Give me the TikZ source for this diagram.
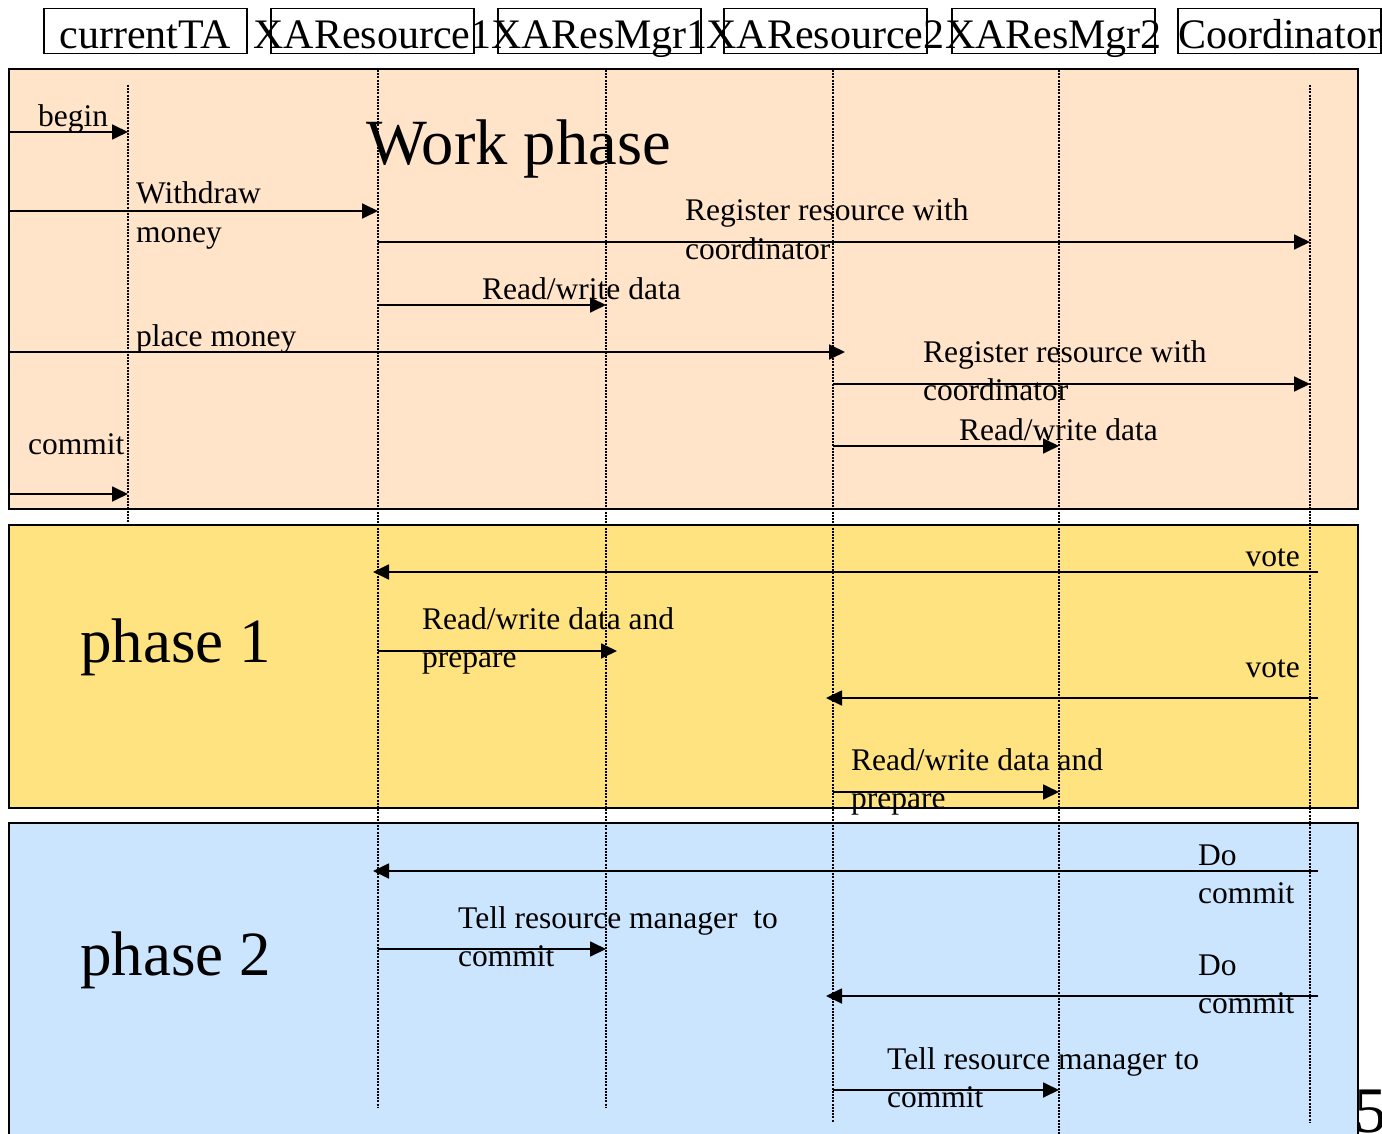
\documentclass[tikz,border=0pt]{standalone}
\usepackage{fontspec}
\setmainfont{Liberation Serif}
\usetikzlibrary{arrows.meta}

\definecolor{workfill}{RGB}{255,228,202}
\definecolor{onefill}{RGB}{255,227,128}
\definecolor{twofill}{RGB}{204,229,255}

\begin{document}
\begin{tikzpicture}[x=1pt,y=-1pt,
  panel/.style={draw=black,line width=2pt},
  headbox/.style={draw=black,line width=1.2pt,minimum width=203pt,minimum height=45pt,inner sep=0pt},
  headtxt/.style={anchor=base,inner sep=0pt,font=\fontsize{42}{42}\selectfont},
  lifeline/.style={line width=1.3pt,dash pattern=on 2pt off 1.2pt},
  msg/.style={line width=1.8pt,-{Triangle[length=16pt,width=15pt]}},
  lbl/.style={anchor=base west,inner sep=0pt,font=\fontsize{31.5}{38}\selectfont},
  lblr/.style={anchor=base east,inner sep=0pt,font=\fontsize{31.5}{38}\selectfont},
  big/.style={anchor=base west,inner sep=0pt,font=\fontsize{63}{63}\selectfont}]

\useasboundingbox (0,0) rectangle (1382,1134);

% phase panels
\fill[workfill] (9,69) rectangle (1358,509);
\draw[panel] (9,69) rectangle (1358,509);
\fill[onefill] (9,525) rectangle (1358,808);
\draw[panel] (9,525) rectangle (1358,808);
\fill[twofill] (9,823) rectangle (1358,1140);
\draw[panel] (9,1140) -- (9,823) -- (1358,823) -- (1358,1140);

% participant header boxes
\node[headbox] (hTA) at (145.5,31) {};
\node[headbox] (hR1) at (372.5,31) {};
\node[headbox] (hM1) at (599.5,31) {};
\node[headbox] (hR2) at (825.5,31) {};
\node[headbox] (hM2) at (1053.5,31) {};
\node[headbox] (hCO) at (1279.5,31) {};
\node[headtxt] (tTA) at (145.5,49) {currentTA};
\node[headtxt] (tR1) at (372.5,49) {XAResource1};
\node[headtxt] (tM1) at (599.5,49) {XAResMgr1};
\node[headtxt] (tR2) at (825.5,49) {XAResource2};
\node[headtxt] (tM2) at (1053.5,49) {XAResMgr2};
\node[headtxt] (tCO) at (1279.5,49) {Coordinator};

% phase titles
\node[big,font=\fontsize{64.5}{64.5}\selectfont] (wp) at (366,165) {Work phase};
\node[big] (p1) at (80,662) {phase 1};
\node[big] (p2) at (80,975) {phase 2};
\node[anchor=base west,inner sep=0pt,font=\fontsize{65}{65}\selectfont] (pg) at (1354,1132) {5};

% message labels
\node[lbl] (l1) at (38,127) {begin};
\node[lbl] (l2a) at (136,204) {Withdraw};
\node[lbl] (l2b) at (136,243) {money};
\node[lbl] (l3a) at (685,221) {Register resource with};
\node[lbl] (l3b) at (685,259) {coordinator};
\node[lbl] (l4) at (482,299) {Read/write data};
\node[lbl] (l5) at (136,346) {place money};
\node[lbl] (l6a) at (923,362) {Register resource with};
\node[lbl] (l6b) at (923,400) {coordinator};
\node[lbl] (l7) at (959,440) {Read/write data};
\node[lbl] (l8) at (28,454) {commit};
\node[lblr] (l9) at (1300,566) {vote};
\node[lbl] (l10a) at (422,629) {Read/write data and};
\node[lbl] (l10b) at (422,667) {prepare};
\node[lblr] (l11) at (1300,677) {vote};
\node[lbl] (l12a) at (851,770) {Read/write data and};
\node[lbl] (l12b) at (851,808) {prepare};
\node[lbl] (l13a) at (1198,865) {Do};
\node[lbl] (l13b) at (1198,903) {commit};
\node[lbl] (l14a) at (458,928) {Tell resource manager\ \ to};
\node[lbl] (l14b) at (458,966) {commit};
\node[lbl] (l15a) at (1198,975) {Do};
\node[lbl] (l15b) at (1198,1013) {commit};
\node[lbl] (l16a) at (887,1069) {Tell resource manager to};
\node[lbl] (l16b) at (887,1107) {commit};

% lifelines
\coordinate (taTop) at (128,85);   \coordinate (taEnd) at (128,523);
\coordinate (r1Top) at (378,70);   \coordinate (r1End) at (378,1107);
\coordinate (m1Top) at (606,70);   \coordinate (m1End) at (606,1107);
\coordinate (r2Top) at (833,70);   \coordinate (r2End) at (833,1122);
\coordinate (m2Top) at (1059,70);  \coordinate (m2End) at (1059,1140);
\coordinate (coTop) at (1310,85);  \coordinate (coEnd) at (1310,1122);
\draw[lifeline] (taTop) -- (taEnd);
\draw[lifeline] (r1Top) -- (r1End);
\draw[lifeline] (m1Top) -- (m1End);
\draw[lifeline] (r2Top) -- (r2End);
\draw[lifeline] (m2Top) -- (m2End);
\draw[lifeline] (coTop) -- (coEnd);

% message end points
\coordinate (a1s) at (9,132);     \coordinate (a1e) at (128,132);
\coordinate (a2s) at (9,211);     \coordinate (a2e) at (378,211);
\coordinate (a3s) at (378,242);   \coordinate (a3e) at (1310,242);
\coordinate (a4s) at (378,305);   \coordinate (a4e) at (606,305);
\coordinate (a5s) at (9,352);     \coordinate (a5e) at (845,352);
\coordinate (a6s) at (833,384);   \coordinate (a6e) at (1310,384);
\coordinate (a7s) at (833,446);   \coordinate (a7e) at (1059,446);
\coordinate (a8s) at (9,494);     \coordinate (a8e) at (128,494);
\coordinate (a9s) at (1318,572);  \coordinate (a9e) at (373,572);
\coordinate (a10s) at (378,651);  \coordinate (a10e) at (617,651);
\coordinate (a11s) at (1318,698); \coordinate (a11e) at (826,698);
\coordinate (a12s) at (833,792);  \coordinate (a12e) at (1059,792);
\coordinate (a13s) at (1318,871); \coordinate (a13e) at (373,871);
\coordinate (a14s) at (378,949);  \coordinate (a14e) at (606,949);
\coordinate (a15s) at (1318,996); \coordinate (a15e) at (826,996);
\coordinate (a16s) at (833,1090); \coordinate (a16e) at (1059,1090);

% messages
\foreach \i in {1,...,16} {\draw[msg] (a\i s) -- (a\i e);}

\end{tikzpicture}
\end{document}
